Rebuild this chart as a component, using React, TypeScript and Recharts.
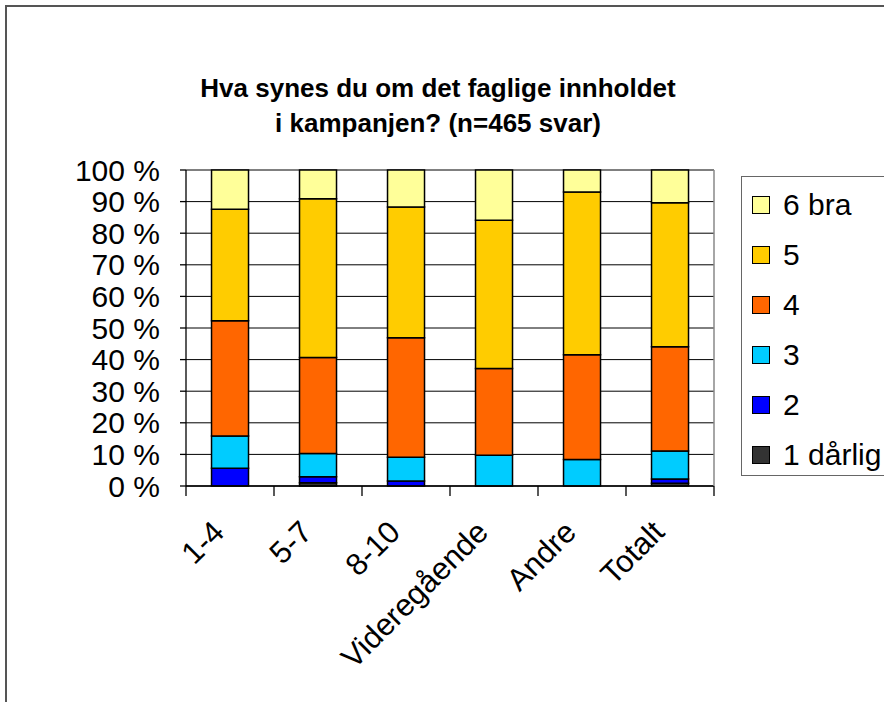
import React from "react";
import { BarChart, Bar, XAxis, YAxis, CartesianGrid } from "recharts";

const categories = ["1-4", "5-7", "8-10", "Videregående", "Andre", "Totalt"];
const seriesNames = ["1 dårlig", "2", "3", "4", "5", "6 bra"];
const seriesColors = ["#333333", "#0000FF", "#00CCFF", "#FF6600", "#FFCC00", "#FFFF99"];

// percent per category, bottom to top
const s1 = [0, 1.0, 0, 0, 0, 0.9];
const s2 = [5.6, 1.9, 1.6, 0, 0, 1.3];
const s3 = [10.2, 7.4, 7.5, 9.7, 8.4, 8.9];
const s4 = [36.5, 30.4, 37.8, 27.5, 33.1, 33.0];
const s5 = [35.3, 50.2, 41.4, 46.9, 51.5, 45.5];
const s6 = [12.4, 9.1, 11.7, 15.9, 7.0, 10.4];
const seriesValues = [s1, s2, s3, s4, s5, s6];

const yTicks = [0, 10, 20, 30, 40, 50, 60, 70, 80, 90, 100];

const FONT = '"Liberation Sans", Arial, sans-serif';
const W = 884;
const H = 702;
const PLOT_LEFT = 186;
const PLOT_RIGHT = 714;
const PLOT_TOP = 170;
const PLOT_BOTTOM = 486;
const half = (PLOT_RIGHT - PLOT_LEFT) / categories.length / 2;

const data = categories.map((name, i) => {
  const row: any = { name };
  seriesNames.forEach((s, k) => {
    row[s] = seriesValues[k][i];
  });
  return row;
});

const XTick = (props: any) => {
  const { x, y, payload, index } = props;
  const tx = x - 4;
  const ty = y + 48;
  return (
    <g>
      {index === 0 && (
        <line x1={x - half} x2={x - half} y1={y} y2={y + 10} stroke="#000" strokeWidth={1.3} />
      )}
      <line x1={x + half} x2={x + half} y1={y} y2={y + 10} stroke="#000" strokeWidth={1.3} />
      <text
        x={tx}
        y={ty}
        transform={`rotate(-45, ${tx}, ${ty})`}
        textAnchor="end"
        fontSize={31}
        fontFamily={FONT}
        fill="#000"
      >
        {payload.value}
      </text>
    </g>
  );
};

export default function App() {
  return (
    <div
      style={{
        position: "absolute",
        left: 0,
        top: 0,
        width: W,
        height: H,
        overflow: "hidden",
        background: "#fff",
        fontFamily: FONT,
      }}
    >
      <div
        style={{
          position: "absolute",
          left: 5,
          top: 5,
          width: 1000,
          height: 1000,
          border: "2px solid #555",
        }}
      />
      <div
        style={{
          position: "absolute",
          left: 0,
          top: 71,
          width: 876,
          textAlign: "center",
          fontSize: 26,
          lineHeight: "35px",
          fontWeight: "bold",
          color: "#000",
        }}
      >
        Hva synes du om det faglige innholdet
        <br />
        i kampanjen? (n=465 svar)
      </div>
      <div style={{ position: "absolute", left: 0, top: 0 }}>
        <BarChart
          width={W}
          height={H}
          data={data}
          margin={{ top: PLOT_TOP, right: 0, left: 0, bottom: 0 }}
          barCategoryGap="29%"
        >
          <CartesianGrid horizontal={true} vertical={false} stroke="#000" strokeWidth={1} />
          <XAxis
            dataKey="name"
            height={H - PLOT_BOTTOM}
            tickSize={0}
            tickMargin={0}
            tickLine={false}
            axisLine={{ stroke: "#000", strokeWidth: 1.3 }}
            tick={<XTick />}
            interval={0}
          />
          <XAxis xAxisId="top" orientation="top" height={0} tick={false} tickLine={false} axisLine={{ stroke: "#888", strokeWidth: 1.5 }} />
          <YAxis
            width={PLOT_LEFT}
            domain={[0, 100]}
            ticks={yTicks}
            tickFormatter={(v: number) => `${v} %`}
            tickSize={6}
            tickMargin={20}
            interval={0}
            tick={{ fontSize: 30, fill: "#000", fontFamily: FONT }}
            tickLine={{ stroke: "#000", strokeWidth: 1.3 }}
            axisLine={{ stroke: "#000", strokeWidth: 1.3 }}
          />
          <YAxis
            yAxisId="right"
            orientation="right"
            width={W - PLOT_RIGHT}
            tick={false}
            tickLine={false}
            axisLine={{ stroke: "#888", strokeWidth: 1.5 }}
          />
          {seriesNames.map((s, k) => (
            <Bar
              key={s}
              dataKey={s}
              stackId="a"
              fill={seriesColors[k]}
              stroke="#000"
              strokeWidth={1.5}
              isAnimationActive={false}
            />
          ))}
        </BarChart>
      </div>
      <div
        style={{
          position: "absolute",
          left: 741,
          top: 176,
          width: 300,
          height: 298,
          border: "1.5px solid #666",
          background: "#fff",
        }}
      >
        {seriesNames
          .map((s, k) => ({ s, c: seriesColors[k] }))
          .reverse()
          .map((item, i) => (
            <div
              key={item.s}
              style={{
                position: "absolute",
                left: 10,
                top: 27.5 + 50 * i - 17,
                height: 34,
                display: "flex",
                alignItems: "center",
                whiteSpace: "nowrap",
              }}
            >
              <span
                style={{
                  display: "inline-block",
                  width: 16,
                  height: 16,
                  background: item.c,
                  border: "1.5px solid #000",
                  marginRight: 13,
                }}
              />
              <span style={{ fontSize: 30, color: "#000", lineHeight: "34px" }}>{item.s}</span>
            </div>
          ))}
      </div>
    </div>
  );
}
